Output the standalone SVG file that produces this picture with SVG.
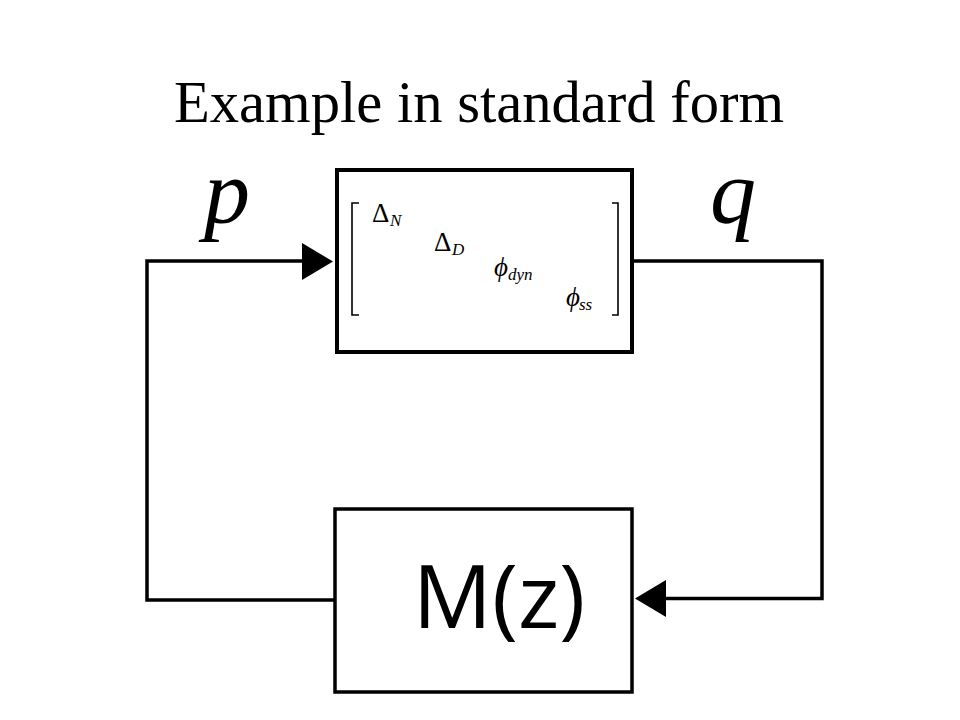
<svg xmlns="http://www.w3.org/2000/svg" width="960" height="720" viewBox="0 0 960 720">
<defs>
<style>
.box{fill:#fff;stroke:#000}
.wire{fill:none;stroke:#000;stroke-width:3.5}
.head{fill:#000;stroke:none}
.title{font-family:"Liberation Serif","Times New Roman",serif;font-size:58.6px;fill:#000}
.sig{font-family:"Liberation Serif","Times New Roman",serif;font-style:italic;font-size:92px;fill:#000}
.m{font-family:"Liberation Serif","DejaVu Serif",serif;font-size:27px;fill:#000}
.phi{font-family:"Liberation Serif","DejaVu Serif",serif;font-style:italic;font-size:27px;fill:#000}
.sub{font-family:"Liberation Serif","DejaVu Serif",serif;font-style:italic;font-size:17px;fill:#000}
.br{fill:none;stroke:#000;stroke-width:1.6}
.mz{font-family:"Open Sans","Liberation Sans",sans-serif;font-size:88px;fill:#000}
</style>
</defs>
<rect width="960" height="720" fill="#fff"/>
<text class="title" x="174" y="122">Example in standard form</text>
<g id="connectors">
<polyline class="wire" points="335,600 147,600 147,261 305,261"/>
<polygon class="head" points="333,261.5 302,243 302,280"/>
<polyline class="wire" points="632,261 822,261 822,598.5 662,598.5"/>
<polygon class="head" points="635,598.5 666,580 666,617"/>
</g>
<g id="label-p"><text class="sig" x="204" y="223">p</text></g>
<g id="label-q"><text class="sig" x="710" y="223">q</text></g>
<g id="delta-block">
<rect class="box" x="337" y="170" width="295" height="182" stroke-width="4"/>
<polyline class="br" points="359,203 352,203 352,315 359,315"/>
<polyline class="br" points="612,203 618,203 618,315 612,315"/>
<text class="m" x="372" y="222">Δ</text><text class="sub" x="390" y="226">N</text>
<text class="m" x="434" y="251">Δ</text><text class="sub" x="452" y="255">D</text>
<text class="phi" x="494" y="276">ϕ</text><text class="sub" x="508" y="280">dyn</text>
<text class="phi" x="566" y="306">ϕ</text><text class="sub" x="579" y="310">ss</text>
</g>
<g id="m-block">
<rect class="box" x="335" y="509" width="297" height="183" stroke-width="3.5"/>
<text class="mz" x="499" y="628" text-anchor="middle">M(z)</text>
</g>
</svg>
